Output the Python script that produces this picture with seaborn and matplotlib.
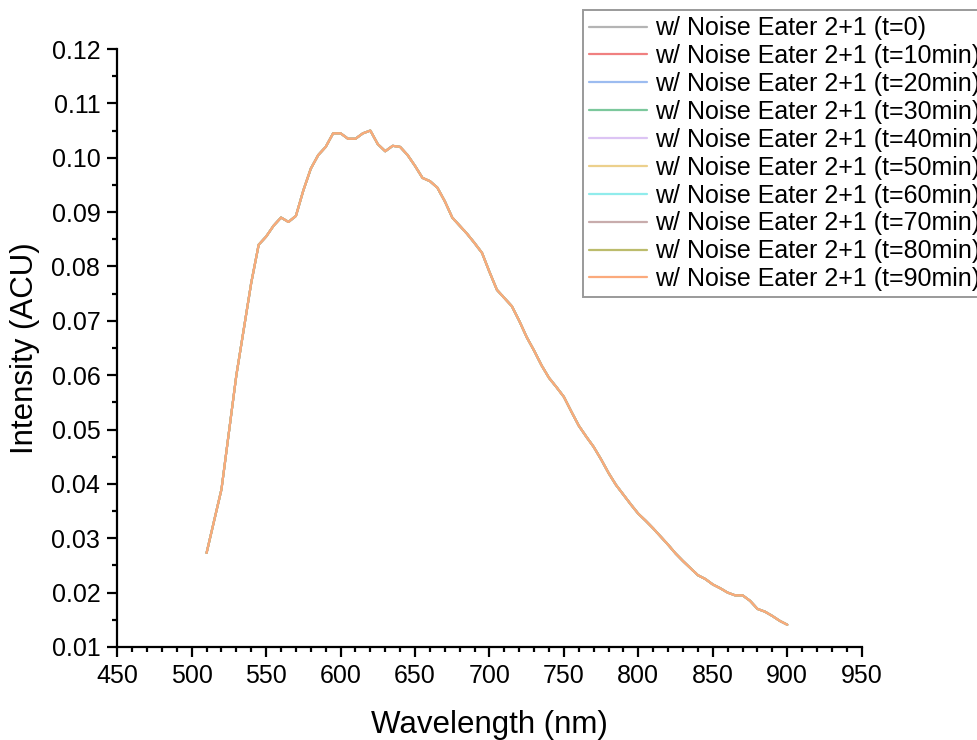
import numpy as np
import pandas as pd
import matplotlib
matplotlib.use("Agg")
import matplotlib.pyplot as plt
import seaborn as sns
from matplotlib.ticker import MultipleLocator, FormatStrFormatter
from matplotlib.lines import Line2D

sns.set_theme(style="ticks")
plt.rcParams['font.family'] = ['Liberation Sans', 'DejaVu Sans']
plt.rcParams['text.color'] = 'black'
plt.rcParams['axes.labelcolor'] = 'black'
plt.rcParams['xtick.color'] = 'black'
plt.rcParams['ytick.color'] = 'black'

wavelength = [510, 520, 530, 540, 545, 550, 555, 560, 565, 570, 575, 580, 585, 590,
              595, 600, 605, 610, 615, 620, 625, 630, 635, 640, 645, 650, 655, 660,
              665, 670, 675, 680, 685, 690, 695, 700, 705, 710, 715, 720, 725, 730,
              735, 740, 745, 750, 755, 760, 765, 770, 775, 780, 785, 790, 795, 800,
              805, 810, 815, 820, 825, 830, 835, 840, 845, 850, 855, 860, 865, 870,
              875, 880, 885, 890, 895, 900]
intensity = [0.0273, 0.0390, 0.0600, 0.0770, 0.0840, 0.0855, 0.0875, 0.0890, 0.0882,
             0.0893, 0.0940, 0.0980, 0.1005, 0.1020, 0.1045, 0.1045, 0.1035, 0.1035,
             0.1045, 0.1050, 0.1025, 0.1012, 0.1022, 0.1020, 0.1005, 0.0985, 0.0963,
             0.0957, 0.0945, 0.0920, 0.0890, 0.0875, 0.0860, 0.0843, 0.0825, 0.0790,
             0.0757, 0.0742, 0.0727, 0.0700, 0.0670, 0.0645, 0.0618, 0.0595, 0.0578,
             0.0560, 0.0533, 0.0507, 0.0487, 0.0468, 0.0445, 0.0420, 0.0398, 0.0380,
             0.0362, 0.0345, 0.0332, 0.0318, 0.0303, 0.0288, 0.0272, 0.0258, 0.0245,
             0.0232, 0.0225, 0.0215, 0.0208, 0.0200, 0.0195, 0.0195, 0.0185, 0.0170,
             0.0165, 0.0157, 0.0148, 0.0141]

series_labels = ["w/ Noise Eater 2+1 (t=0)", "w/ Noise Eater 2+1 (t=10min)",
                 "w/ Noise Eater 2+1 (t=20min)", "w/ Noise Eater 2+1 (t=30min)",
                 "w/ Noise Eater 2+1 (t=40min)", "w/ Noise Eater 2+1 (t=50min)",
                 "w/ Noise Eater 2+1 (t=60min)", "w/ Noise Eater 2+1 (t=70min)",
                 "w/ Noise Eater 2+1 (t=80min)", "w/ Noise Eater 2+1 (t=90min)"]
series_colors = ["#b4b4b4", "#f08080", "#9cbcf0", "#7cc89c", "#dcc4f4",
                 "#ecd08c", "#90ecec", "#c8acac", "#bcbc6c", "#fbaa7c"]

frames = []
for lab in series_labels:
    frames.append(pd.DataFrame({"Wavelength": wavelength, "Intensity": intensity, "Series": lab}))
df = pd.concat(frames, ignore_index=True)

fig = plt.figure(figsize=(9.77, 7.40), dpi=100)
ax = fig.add_axes([0.120, 0.1257, 0.762, 0.808])

sns.lineplot(data=df, x="Wavelength", y="Intensity", hue="Series",
             palette=dict(zip(series_labels, series_colors)), linewidth=1.5,
             ax=ax, legend=False, sort=False)

ax.set_xlim(450, 950)
ax.set_ylim(0.01, 0.12)
ax.xaxis.set_major_locator(MultipleLocator(50))
ax.xaxis.set_minor_locator(MultipleLocator(10))
ax.yaxis.set_major_locator(MultipleLocator(0.01))
ax.yaxis.set_minor_locator(MultipleLocator(0.005))
ax.yaxis.set_major_formatter(FormatStrFormatter('%.2f'))

for s in ["top", "right"]:
    ax.spines[s].set_visible(False)
for s in ["left", "bottom"]:
    ax.spines[s].set_linewidth(1.6)
    ax.spines[s].set_color("black")

ax.tick_params(axis="both", which="major", direction="out", length=7.2, width=1.6,
               labelsize=18, colors="black", pad=5)
ax.tick_params(axis="both", which="minor", direction="out", length=3.6, width=1.6,
               colors="black")

ax.set_xlabel("Wavelength (nm)", fontsize=22.5, labelpad=16)
ax.set_ylabel("Intensity (ACU)", fontsize=22.5, labelpad=8)

handles = [Line2D([0], [0], color=c, lw=1.6) for c in series_colors]
leg = fig.legend(handles, series_labels, loc="upper left",
                 bbox_to_anchor=(583 / 977, 1 - 10 / 740), fontsize=18,
                 frameon=True, fancybox=False, edgecolor="#808080",
                 handlelength=2.3, handletextpad=0.32, labelspacing=0.155,
                 borderpad=0.25, borderaxespad=0)
leg.get_frame().set_linewidth(1.4)
for t in leg.get_texts():
    t.set_color("black")

fig.savefig("out.png", dpi=100)
